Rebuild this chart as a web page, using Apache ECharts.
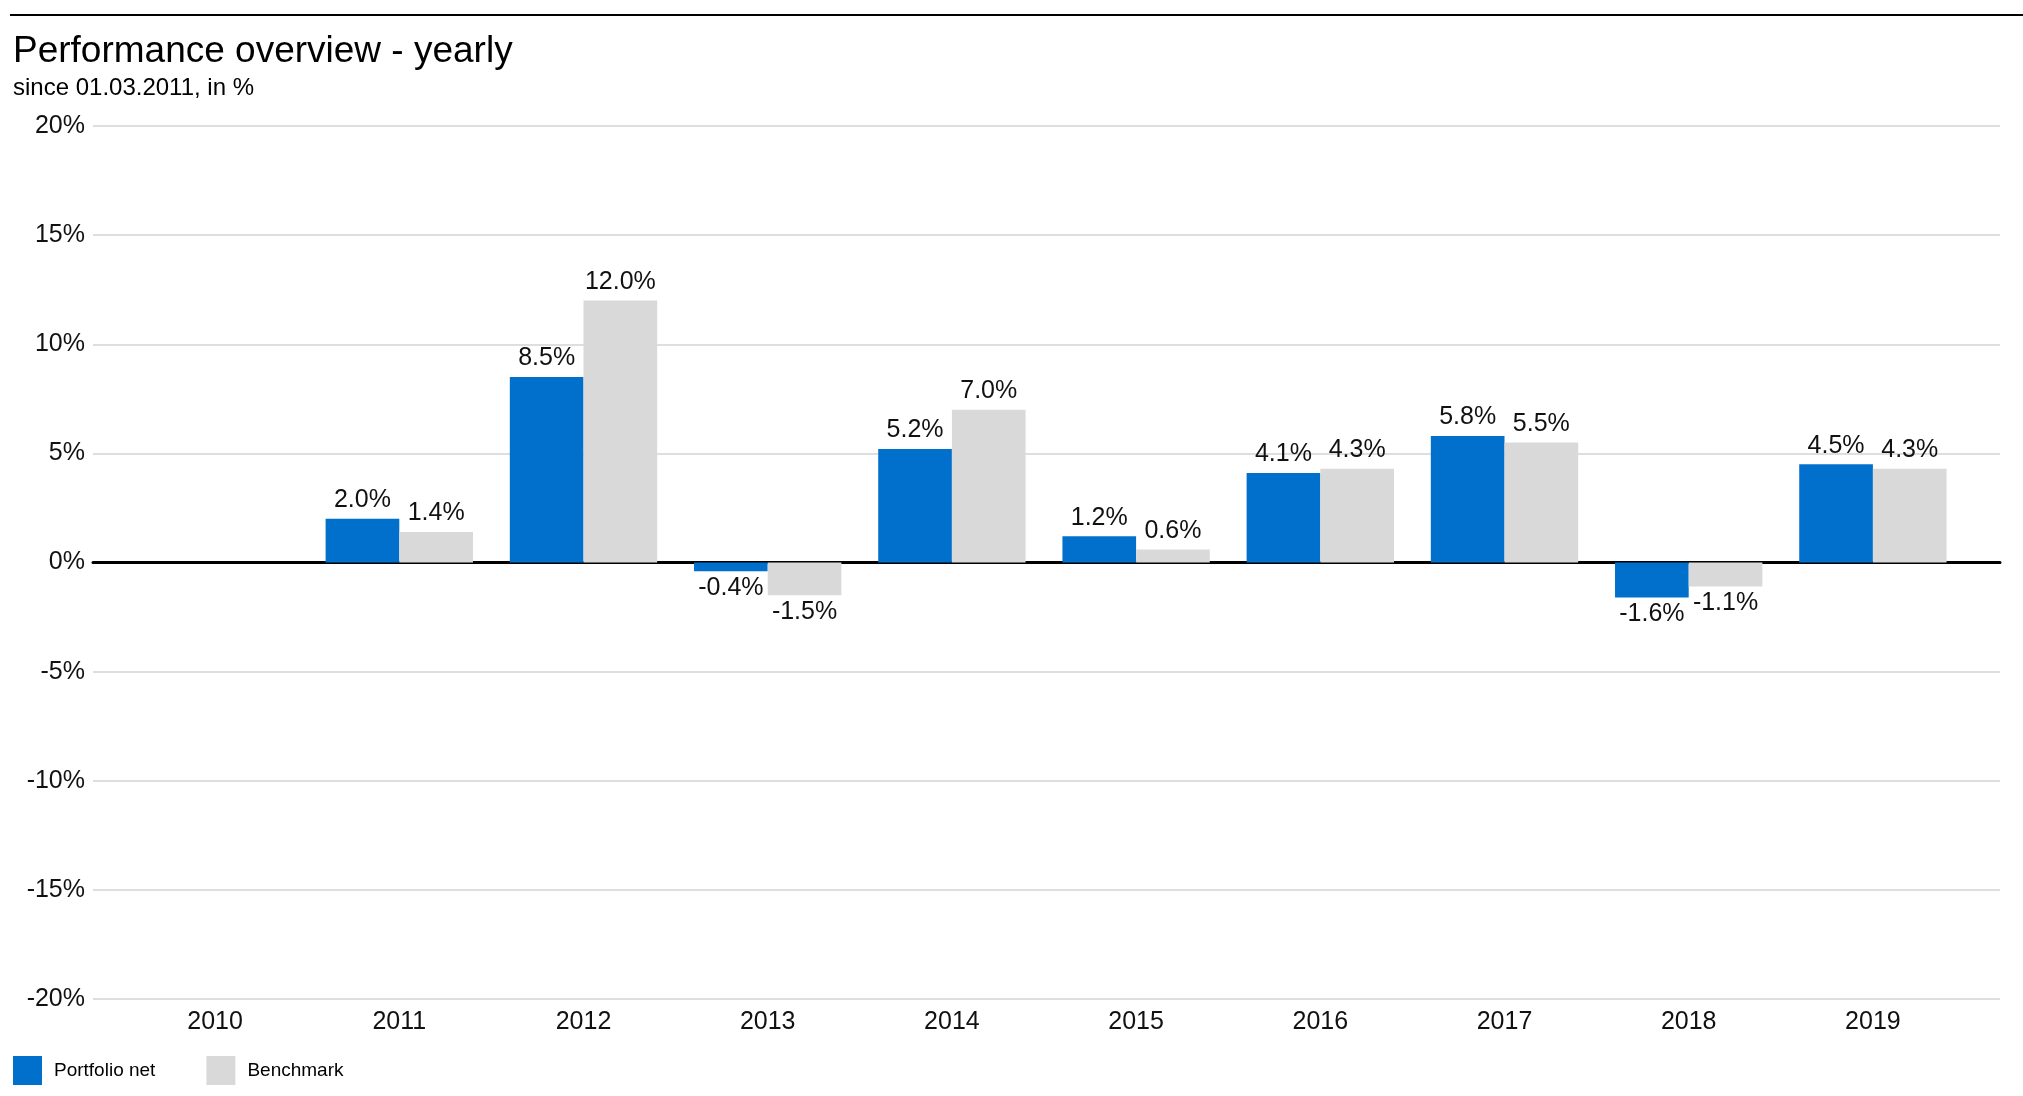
<!DOCTYPE html>
<html>
<head>
<meta charset="utf-8">
<script src="https://cdn.jsdelivr.net/npm/echarts@6/dist/echarts.min.js"></script>
<style>
html,body{margin:0;padding:0;background:#fff;}
#chart{width:2023px;height:1096px;}
</style>
</head>
<body>
<div id="chart"></div>
<script>
const categories = ['2010','2011','2012','2013','2014','2015','2016','2017','2018','2019'];
const portfolioNet = [null, 2.0, 8.5, -0.4, 5.2, 1.2, 4.1, 5.8, -1.6, 4.5];
const benchmark = [null, 1.4, 12.0, -1.5, 7.0, 0.6, 4.3, 5.5, -1.1, 4.3];
const seriesNames = ['Portfolio net', 'Benchmark'];
const yMin = -20, yMax = 20, yStep = 5;

const FONT = '"Liberation Sans", Arial, sans-serif';
const BLUE = '#0070CC';
const GRAY = '#D9D9D9';

function toItems(arr) {
  return arr.map(v => v == null ? null : {
    value: v,
    label: { position: v < 0 ? 'bottom' : 'top', distance: v < 0 ? 4 : 6 }
  });
}

const chart = echarts.init(document.getElementById('chart'), null, { renderer: 'canvas' });
const labelCommon = {
  show: true,
  fontFamily: FONT,
  fontSize: 25,
  color: '#111',
  formatter: p => p.value.toFixed(1) + '%'
};

chart.setOption({
  backgroundColor: '#fff',
  animation: false,
  textStyle: { fontFamily: FONT },
  title: [
    { text: 'Performance overview - yearly', left: 8, top: 28,
      textStyle: { fontFamily: FONT, fontSize: 37, fontWeight: 'normal', color: '#000' } },
    { text: 'since 01.03.2011, in %', left: 8, top: 71,
      textStyle: { fontFamily: FONT, fontSize: 24, fontWeight: 'normal', color: '#000' } }
  ],
  graphic: [
    { type: 'line', shape: { x1: 10, y1: 15, x2: 2023, y2: 15 }, style: { stroke: '#000', lineWidth: 2 } }
  ],
  legend: {
    left: 8, top: 1051,
    itemWidth: 29, itemHeight: 29, itemGap: 51,
    icon: 'rect',
    textStyle: { fontFamily: FONT, fontSize: 19, color: '#000', padding: [0, 0, 0, 7] },
    data: seriesNames
  },
  grid: [
    { left: 93, right: 23, top: 126, bottom: 97 },
    { left: 123, right: 58, top: 126, bottom: 97 }
  ],
  xAxis: [
    { type: 'category', gridIndex: 0, data: categories,
      axisLine: { show: true, onZero: true, lineStyle: { color: '#000', width: 3 } },
      axisTick: { show: false }, axisLabel: { show: false }, splitLine: { show: false } },
    { type: 'category', gridIndex: 1, data: categories,
      axisLine: { show: false, onZero: false }, axisTick: { show: false },
      axisLabel: { fontFamily: FONT, fontSize: 25, color: '#111', margin: 11 } }
  ],
  yAxis: [
    { type: 'value', gridIndex: 0, min: yMin, max: yMax, interval: yStep,
      axisLine: { show: false }, axisTick: { show: false },
      axisLabel: { fontFamily: FONT, fontSize: 25, color: '#111', margin: 8, formatter: '{value}%' },
      splitLine: { show: true, lineStyle: { color: '#DEDEDE', width: 2 } } },
    { type: 'value', gridIndex: 1, min: yMin, max: yMax, interval: yStep,
      axisLine: { show: false }, axisTick: { show: false }, axisLabel: { show: false },
      splitLine: { show: false } }
  ],
  series: [
    { name: seriesNames[0], type: 'bar', xAxisIndex: 1, yAxisIndex: 1,
      data: toItems(portfolioNet), barGap: '0%', barCategoryGap: '20%',
      itemStyle: { color: BLUE }, label: labelCommon, z: 1 },
    { name: seriesNames[1], type: 'bar', xAxisIndex: 1, yAxisIndex: 1,
      data: toItems(benchmark), barGap: '0%', barCategoryGap: '20%',
      itemStyle: { color: GRAY }, label: labelCommon, z: 1 }
  ]
});
</script>
</body>
</html>
